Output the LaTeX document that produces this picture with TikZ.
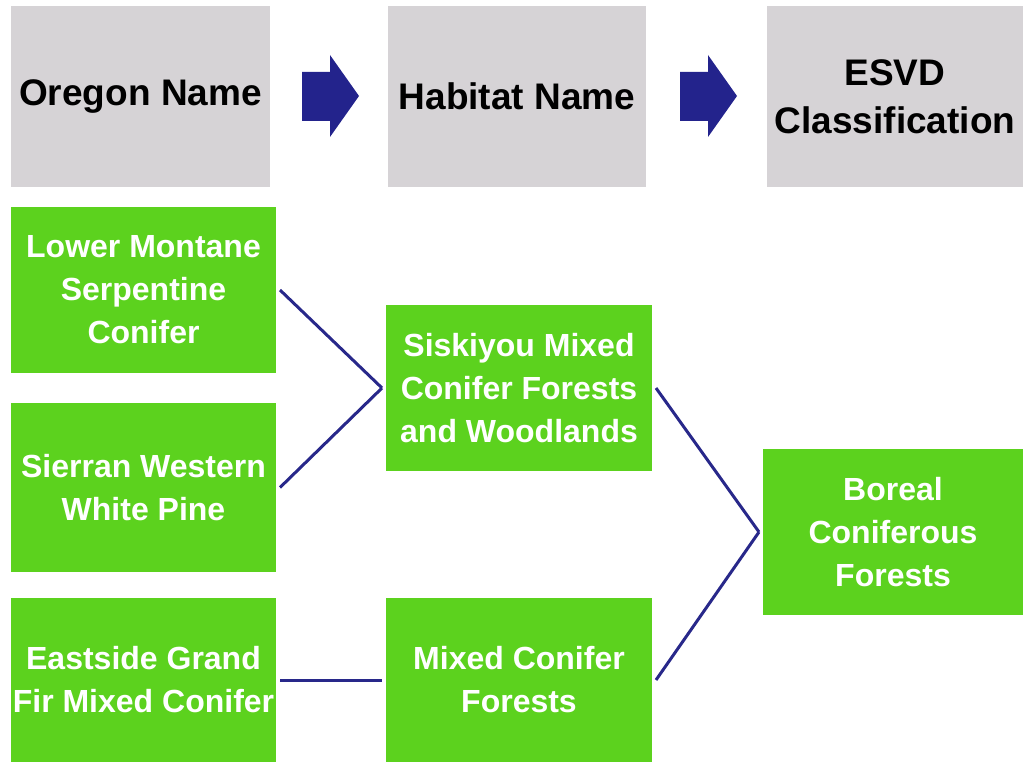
\documentclass[tikz,border=0pt]{standalone}
\usepackage{fontspec}
\setmainfont{Liberation Sans}
\usetikzlibrary{calc}
\definecolor{CrossHeader}{RGB}{214,211,214}
\definecolor{CrossUnit}{RGB}{92,210,30}
\definecolor{CrossInk}{RGB}{40,40,138}
\definecolor{CrossArrow}{RGB}{35,35,140}
\tikzset{
    cross/diagram/.style={
        x=1pt, y=-1pt,
        line join=miter,
        every node/.style={inner sep=0pt}
    },
    cross/header/.style={
        fill=CrossHeader, text=black, align=center,
        font=\fontsize{37}{48}\selectfont\bfseries,
        minimum height=181pt
    },
    cross/unit/.style={
        fill=CrossUnit, text=white, align=center,
        font=\fontsize{32}{43}\selectfont\bfseries,
        minimum height=166pt, outer sep=4pt
    },
    cross/link/.style={draw=CrossInk, line width=3pt},
    cross/flow/.style={fill=CrossArrow, draw=none}
}

\begin{document}
\begin{tikzpicture}[cross/diagram]
    \useasboundingbox (0,0) rectangle (1023,762);

    % column headers
    \node[cross/header, minimum width=259pt] (oregon) at (140.5,96.5) {Oregon Name};
    \node[cross/header, minimum width=258pt] (habitat) at (517,96.5) {Habitat Name};
    \node[cross/header, minimum width=256pt] (esvd) at (895,96.5) {ESVD\\Classification};
    \foreach \dx in {0,378} {
        \fill[cross/flow] (302+\dx,72) -- (330+\dx,72) -- (330+\dx,55)
            -- (359+\dx,96) -- (330+\dx,137) -- (330+\dx,121)
            -- (302+\dx,121) -- cycle;
    }

    % Oregon names
    \node[cross/unit, minimum width=265pt] (serpentine) at (143.5,290)
        {Lower Montane\\Serpentine\\Conifer};
    \node[cross/unit, minimum width=265pt, minimum height=169pt] (whitepine) at (143.5,487.5)
        {Sierran Western\\White Pine};
    \node[cross/unit, minimum width=265pt, minimum height=164pt] (grandfir) at (143.5,680)
        {Eastside Grand\\Fir Mixed Conifer};

    % habitat names
    \node[cross/unit, minimum width=266pt] (siskiyou) at (519,388)
        {Siskiyou Mixed\\Conifer Forests\\and Woodlands};
    \node[cross/unit, minimum width=266pt, minimum height=164pt] (mixed) at (519,680)
        {Mixed Conifer\\Forests};

    % ESVD class
    \node[cross/unit, minimum width=260pt] (boreal) at (893,532)
        {Boreal\\Coniferous\\Forests};

    \draw[cross/link] (serpentine.east) -- (siskiyou.west);
    \draw[cross/link] (whitepine.east) -- (siskiyou.west);
    \draw[cross/link] (grandfir.east) -- (mixed.west);
    \draw[cross/link] (siskiyou.east) -- (boreal.west);
    \draw[cross/link] (mixed.east) -- (boreal.west);
\end{tikzpicture}
\end{document}
